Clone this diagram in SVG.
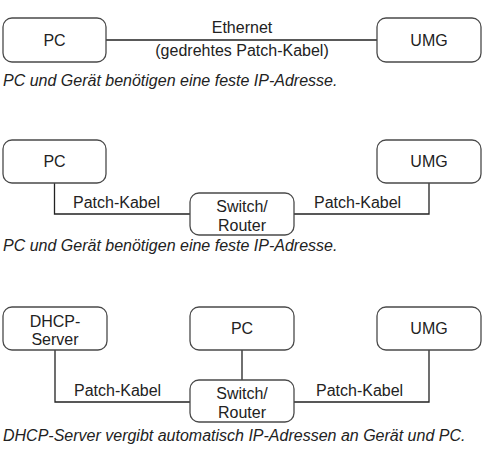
<svg xmlns="http://www.w3.org/2000/svg" width="499" height="454" viewBox="0 0 499 454">
<style>
.box{fill:#fff;stroke:#4a4a4a;stroke-width:1.3}
.t{font-family:"Liberation Sans",Arial,Helvetica,sans-serif;font-size:16px;fill:#222}
.c{text-anchor:middle}
.cap{font-style:italic}
.ln{fill:none;stroke:#222;stroke-width:1.3}
</style>
<rect width="499" height="454" fill="#fff"/>
<g id="connectors">
<path class="ln" d="M106,40 H377"/>
<path class="ln" d="M54.5,183 V214 H190"/>
<path class="ln" d="M294,214 H429 V183"/>
<path class="ln" d="M55,350 V402 H190"/>
<path class="ln" d="M242,350 V380"/>
<path class="ln" d="M294,402 H429 V350"/>
<text class="t c" x="242" y="33">Ethernet</text>
<text class="t c" x="242" y="56">(gedrehtes Patch-Kabel)</text>
<text class="t" x="73" y="208">Patch-Kabel</text>
<text class="t" x="314" y="208">Patch-Kabel</text>
<text class="t" x="74" y="396">Patch-Kabel</text>
<text class="t" x="316" y="396">Patch-Kabel</text>
</g>
<g id="pc1"><rect class="box" x="3" y="18" width="103" height="44" rx="9"/><text class="t c" x="54.5" y="45.5">PC</text></g>
<g id="umg1"><rect class="box" x="377" y="18" width="104" height="44" rx="9"/><text class="t c" x="429" y="45.5">UMG</text></g>
<text id="cap1" class="t cap" x="3" y="86">PC und Gerät benötigen eine feste IP-Adresse.</text>
<g id="pc2"><rect class="box" x="3" y="140" width="103" height="43" rx="9"/><text class="t c" x="54.5" y="167">PC</text></g>
<g id="umg2"><rect class="box" x="377" y="140" width="104" height="43" rx="9"/><text class="t c" x="429" y="167">UMG</text></g>
<g id="switch2"><rect class="box" x="190" y="193" width="104" height="42" rx="9"/><text class="t c" x="242" y="211.5">Switch/</text><text class="t c" x="242" y="230.5">Router</text></g>
<text id="cap2" class="t cap" x="3" y="251">PC und Gerät benötigen eine feste IP-Adresse.</text>
<g id="dhcp3"><rect class="box" x="3" y="307" width="104" height="43" rx="9"/><text class="t c" x="55" y="327">DHCP-</text><text class="t c" x="55" y="345">Server</text></g>
<g id="pc3"><rect class="box" x="190" y="307" width="104" height="43" rx="9"/><text class="t c" x="242" y="334">PC</text></g>
<g id="umg3"><rect class="box" x="377" y="307" width="104" height="43" rx="9"/><text class="t c" x="429" y="334">UMG</text></g>
<g id="switch3"><rect class="box" x="190" y="380" width="104" height="42" rx="9"/><text class="t c" x="242" y="399">Switch/</text><text class="t c" x="242" y="418">Router</text></g>
<text id="cap3" class="t cap" x="3" y="441">DHCP-Server vergibt automatisch IP-Adressen an Gerät und PC.</text>
</svg>
